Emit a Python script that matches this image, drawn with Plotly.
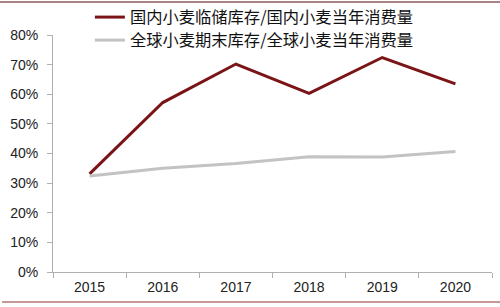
import plotly.graph_objects as go

years = ["2015", "2016", "2017", "2018", "2019", "2020"]
domestic = [0.331, 0.572, 0.702, 0.603, 0.724, 0.635]
world = [0.324, 0.350, 0.366, 0.389, 0.388, 0.407]
name_domestic = "国内小麦临储库存/国内小麦当年消费量"
name_world = "全球小麦期末库存/全球小麦当年消费量"
y_ticks = [0, 0.1, 0.2, 0.3, 0.4, 0.5, 0.6, 0.7, 0.8]

fig = go.Figure()
fig.add_trace(go.Scatter(x=years, y=domestic, mode="lines", name=name_domestic,
                         line=dict(color="#7a1416", width=3), legend="legend"))
fig.add_trace(go.Scatter(x=years, y=world, mode="lines", name=name_world,
                         line=dict(color="#c3c3c3", width=3), legend="legend2"))

legend_font = dict(family="Noto Sans CJK SC", size=16.3, color="#111111")
fig.update_layout(
    width=500, height=307,
    margin=dict(l=53, r=8, t=35, b=35, autoexpand=False),
    paper_bgcolor="white", plot_bgcolor="white",
    font=dict(family="Liberation Sans, Arial", size=14, color="#222222"),
    showlegend=True,
    legend=dict(x=0.084, y=1.1477, xanchor="left", yanchor="top", font=legend_font,
                bgcolor="rgba(0,0,0,0)", itemwidth=30),
    legend2=dict(x=0.084, y=1.0506, xanchor="left", yanchor="top", font=legend_font,
                 bgcolor="rgba(0,0,0,0)", itemwidth=30),
    xaxis=dict(type="category", range=[-0.5, 5.5], showgrid=False, showline=True,
               linecolor="#b0b0b0", linewidth=1, ticks="outside", tickson="boundaries",
               ticklen=5, tickcolor="#b0b0b0", zeroline=False, ticklabelstandoff=2),
    yaxis=dict(range=[0, 0.8], tickvals=y_ticks, tickformat=".0%", showgrid=False,
               showline=True, linecolor="#b0b0b0", linewidth=1, ticks="outside",
               ticklen=5, tickcolor="#b0b0b0", zeroline=False, ticklabelstandoff=6),
    shapes=[
        dict(type="line", xref="paper", yref="paper", x0=-0.13, x1=1.03,
             y0=1.139, y1=1.139, line=dict(color="#8c5a5a", width=1.5)),
        dict(type="line", xref="paper", yref="paper", x0=-0.116, x1=1.03,
             y0=-0.1266, y1=-0.1266, line=dict(color="#8c3030", width=1)),
    ],
)

fig.write_html("out.html")
